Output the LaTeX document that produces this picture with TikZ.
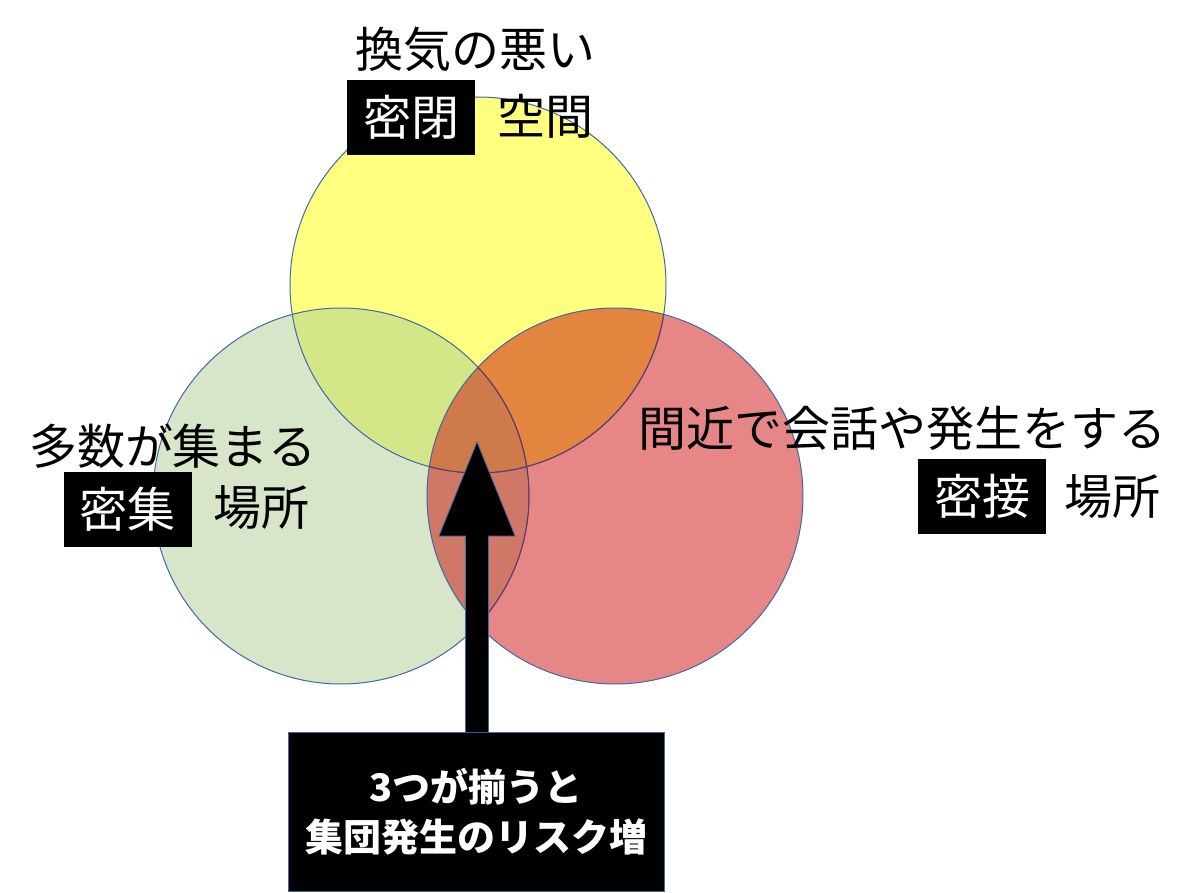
\documentclass[tikz,border=0pt]{standalone}
\usepackage{fontspec}
\newfontfamily\jp{Noto Sans CJK JP}
\usetikzlibrary{calc}
\definecolor{cy}{HTML}{FFFF80}
\definecolor{cg}{HTML}{D7E6C8}
\definecolor{cr}{HTML}{E68686}
\definecolor{cyg}{HTML}{D3E788}
\definecolor{cyr}{HTML}{E3843F}
\definecolor{cgr}{HTML}{D07868}
\definecolor{cygr}{HTML}{CF7A4A}
\definecolor{cl}{HTML}{4168A8}
\definecolor{cld}{HTML}{6A3560}
\tikzset{
  lab/.style={font=\jp\fontsize{48}{58}\selectfont, inner sep=0pt, anchor=center},
  keybox/.style={lab, fill=black, text=white, minimum width=128, minimum height=75},
  riskbox/.style={fill=black, draw=cl, line width=1, text=white, minimum width=376, minimum height=159,
    inner sep=0pt, align=center, font=\jp\bfseries\fontsize{38}{50}\selectfont},
  ring/.style={draw=cl, line width=1},
  arrowbody/.style={fill=black, draw=cl, line width=0.8}
}
\begin{document}
\begin{tikzpicture}[x=1pt,y=-1pt]
\useasboundingbox (0,0) rectangle (1200,893);
\def\rr{188}
\coordinate (cY) at (478,285);
\coordinate (cG) at (341,496);
\coordinate (cR) at (615,496);
% fills
\fill[cg] (cG) circle[radius=\rr];
\fill[cy] (cY) circle[radius=\rr];
\fill[cr] (cR) circle[radius=\rr];
\begin{scope}
  \clip (cG) circle[radius=\rr];
  \fill[cyg] (cY) circle[radius=\rr];
\end{scope}
\begin{scope}
  \clip (cR) circle[radius=\rr];
  \fill[cyr] (cY) circle[radius=\rr];
  \fill[cgr] (cG) circle[radius=\rr];
  \clip (cY) circle[radius=\rr];
  \fill[cygr] (cG) circle[radius=\rr];
\end{scope}
% outlines
\draw[ring] (cG) circle[radius=\rr];
\draw[ring] (cY) circle[radius=\rr];
\draw[ring] (cR) circle[radius=\rr];
\begin{scope}
  \clip (cR) circle[radius=\rr];
  \draw[cld, line width=1] (cG) circle[radius=\rr];
  \draw[cld, line width=1] (cY) circle[radius=\rr];
\end{scope}
% labels
\node[lab] (t1) at (475,49) {換気の悪い};
\node[keybox] (k1) at (411,117.5) {密閉};
\node[lab] (t2) at (545,116) {空間};
\node[lab] (l1) at (173,446) {多数が集まる};
\node[keybox] (k2) at (127.5,509.5) {密集};
\node[lab] (l2) at (261,508) {場所};
\node[lab] (r1) at (902,428) {間近で会話や発生をする};
\node[keybox] (k3) at (982,496.5) {密接};
\node[lab] (r2) at (1112,497) {場所};
% risk box and arrow
\node[riskbox] (risk) at (476,811.5) {3つが揃うと\\集団発生のリスク増};
\coordinate (tip) at (477,442);
\draw[arrowbody] ($(risk.north -| tip)+(-11.5,0.5)$) -- ($(tip)+(-11.5,94)$) -- ($(tip)+(-38,94)$)
  -- (tip) -- ($(tip)+(38,94)$) -- ($(tip)+(11.5,94)$) -- ($(risk.north -| tip)+(11.5,0.5)$);
\end{tikzpicture}
\end{document}
